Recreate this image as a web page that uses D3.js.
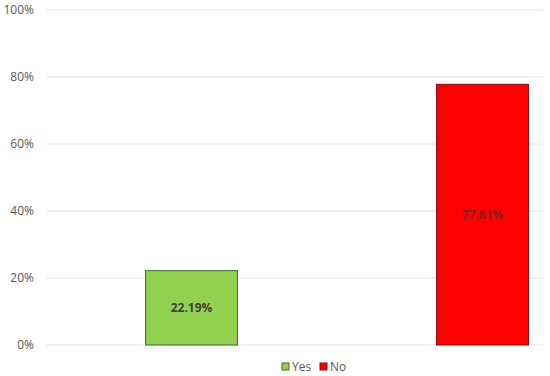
<!DOCTYPE html>
<html>
<head>
<meta charset="utf-8">
<script src="https://cdn.jsdelivr.net/npm/d3@7"></script>
<style>
  body { margin: 0; background: #fff; }
  text { font-family: "Open Sans", "Liberation Sans", sans-serif; }
</style>
</head>
<body>
<div id="chart"></div>
<script>
var categories = ["Yes", "No"];
var values = [22.19, 77.81];
var colors = ["#92d050", "#ff0000"];
var strokes = ["#3f6a22", "#7a1010"];
var yTicks = [0, 20, 40, 60, 80, 100];

var svgWidth = 550, svgHeight = 376;

var svg = d3.select("#chart").append("svg")
    .attr("width", svgWidth)
    .attr("height", svgHeight);

var y = d3.scaleLinear().domain([0, 100]).range([345, 10]);
var x = d3.scaleBand().domain(categories)
    .range([46, 628])
    .paddingInner(0.684)
    .paddingOuter(0.342);

// gridlines
svg.selectAll(".grid").data(yTicks).enter().append("line")
    .attr("x1", 46).attr("x2", 543)
    .attr("y1", d => y(d)).attr("y2", d => y(d))
    .attr("stroke", "#e6e6e6")
    .attr("stroke-width", 1);

var yAxis = d3.axisLeft(y).tickValues(yTicks).tickFormat(d => d + "%").tickSize(0).tickPadding(0);
var yg = svg.append("g").attr("transform", "translate(34,0)").call(yAxis);
yg.select(".domain").remove();
yg.selectAll("text").attr("fill", "#595959").style("font-size", "12px");

// bars
svg.selectAll(".bar").data(values).enter().append("rect")
    .attr("x", (d, i) => x(categories[i]))
    .attr("y", d => y(d))
    .attr("width", x.bandwidth())
    .attr("height", d => y(0) - y(d))
    .attr("fill", (d, i) => colors[i])
    .attr("stroke", (d, i) => strokes[i])
    .attr("stroke-width", 1);

// labels
svg.selectAll(".lbl").data(values).enter().append("text")
    .attr("x", (d, i) => x(categories[i]) + x.bandwidth() / 2)
    .attr("y", d => (y(d) + y(0)) / 2)
    .attr("dy", "0.35em")
    .attr("text-anchor", "middle")
    .style("font-size", "12px")
    .style("font-weight", "bold")
    .attr("fill", (d, i) => i == 0 ? "#404040" : "#8a1c1c")
    .text(d => d.toFixed(2) + "%");

// legend
var legend = svg.append("g").attr("transform", "translate(282,367)");
var lx = [0, 38];
categories.forEach(function(c, i) {
    legend.append("rect")
        .attr("x", lx[i]).attr("y", -4)
        .attr("width", 7).attr("height", 7)
        .attr("fill", colors[i])
        .attr("stroke", strokes[i]);
    legend.append("text")
        .attr("x", lx[i] + 10).attr("y", 0)
        .attr("dy", "0.35em")
        .attr("fill", "#595959")
        .style("font-size", "12px")
        .text(c);
});
</script>
</body>
</html>
